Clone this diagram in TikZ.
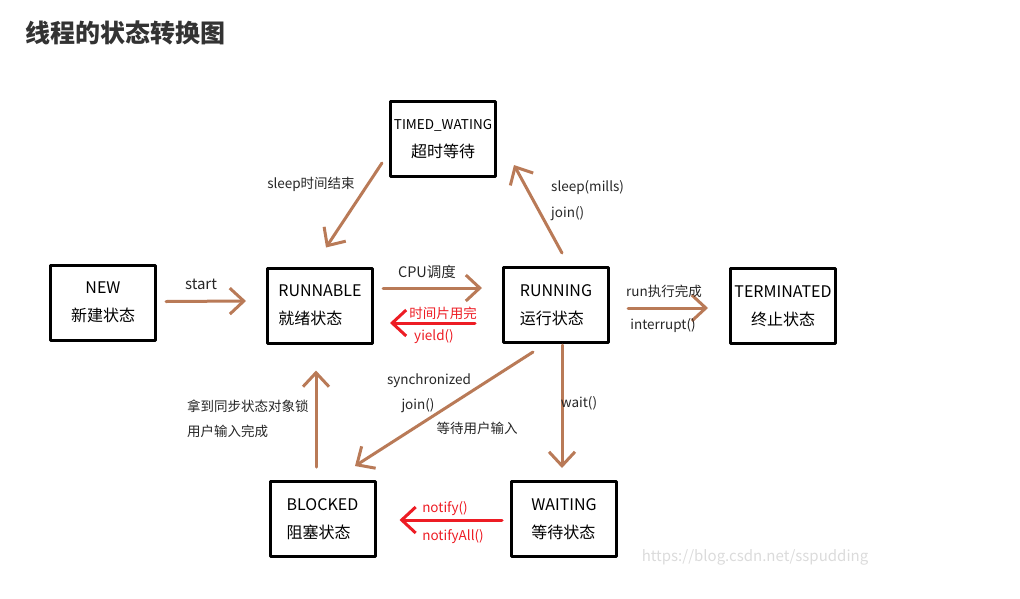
\documentclass[tikz,border=0pt]{standalone}
\usepackage{fontspec}
\setmainfont{Noto Sans CJK SC}
\usetikzlibrary{arrows.meta}
\definecolor{flowbrown}{RGB}{185,122,87}
\definecolor{flowred}{RGB}{237,28,36}
\begin{document}
\begin{tikzpicture}[x=1pt,y=-1pt,line cap=round,line join=round,
    state/.style={draw, line width=3pt, minimum width=105pt, minimum height=75pt, inner sep=2pt, font=\fontsize{16}{28}\selectfont},
    flow/.style={draw=flowbrown, line width=3pt, -{Straight Barb[length=14pt,width=26pt]}},
    back/.style={flow, draw=flowred},
    lbl/.style={font=\fontsize{13.5}{14}\selectfont, text=black!85, inner sep=0pt},
    rlbl/.style={lbl, text=flowred}]
                \useasboundingbox (0,0) rectangle (1020,598);
                \node[anchor=west, inner sep=0pt, font=\fontsize{25}{26}\selectfont\bfseries, text=black!80] (title) at (25,33) {线程的状态转换图};
                % states
                \node[state, align=center] (new) at (103,302.5) {NEW\\新建状态};
                \node[state, align=left] (runnable) at (320,305.5) {RUNNABLE\\就绪状态};
                \node[state, align=center] (timed) at (443,139) {{\fontsize{13.5}{28}\selectfont TIMED\_WATING}\\超时等待};
                \node[state, align=left] (running) at (556,305) {RUNNING\\运行状态};
                \node[state, align=center] (term) at (783,306) {TERMINATED\\终止状态};
                \node[state, align=left] (blocked) at (322.5,519) {BLOCKED\\阻塞状态};
                \node[state, align=left] (waiting) at (564,519) {WAITING\\等待状态};
                % transitions
                \draw[flow] ([shift={(9,-1)}]new.east) -- ([shift={(-20,-4.5)}]runnable.west);
                \draw[flow] ([shift={(9,-17.5)}]runnable.east) -- ([shift={(-20,-17)}]running.west);
                \draw[back] ([shift={(-27,18)}]running.west) -- ([shift={(16,17.5)}]runnable.east);
                \draw[flow] ([shift={(-7,24)}]timed.west) -- ([shift={(6,-19)}]runnable.north);
                \draw[flow] ([shift={(6,-13)}]running.north) -- ([shift={(17,26)}]timed.east);
                \draw[flow] ([shift={(18,3)}]running.east) -- ([shift={(-21,2)}]term.west);
                \draw[flow] ([shift={(-23,8)}]running.south) -- ([shift={(32.5,-14)}]blocked.north);
                \draw[flow] ([shift={(6,1)}]running.south) -- ([shift={(-2,-12)}]waiting.north);
                \draw[flow] ([shift={(-6.5,-13)}]blocked.north) -- ([shift={(-4,26)}]runnable.south);
                \draw[back] ([shift={(-8,1)}]waiting.west) -- ([shift={(23,1)}]blocked.east);
                % labels
                \node[lbl, font=\fontsize{15}{16}\selectfont] (lstart) at (201,284) {start};
                \node[lbl, font=\fontsize{14.5}{16}\selectfont] (lcpu) at (427,272) {CPU调度};
                \node[rlbl] (lslice) at (443,313) {时间片用完};
                \node[rlbl] (lyield) at (434,337) {yield()};
                \node[lbl] (lsleepend) at (311,184) {sleep时间结束};
                \node[lbl, anchor=west] (lsleep) at (551,188) {sleep(mills)};
                \node[lbl, anchor=west] (ljoin) at (551,214) {join()};
                \node[lbl] (lrun) at (664,291) {run执行完成};
                \node[lbl] (lint) at (663,326) {interrupt()};
                \node[lbl] (lsync) at (429,381) {synchronized};
                \node[lbl] (ljoinb) at (418,406) {join()};
                \node[lbl] (linput) at (477,428) {等待用户输入};
                \node[lbl] (lwait) at (579,403) {wait()};
                \node[lbl, anchor=west] (llock) at (187,406) {拿到同步状态对象锁};
                \node[lbl, anchor=west] (ldone) at (187,431) {用户输入完成};
                \node[rlbl] (lnotify) at (445,509) {notify()};
                \node[rlbl] (lnotifyall) at (453,537) {notifyAll()};
                \node[font=\fontsize{15}{16}\selectfont, text=black!14, inner sep=0pt] (mark) at (755,557) {https://blog.csdn.net/sspudding};
            \end{tikzpicture}
\end{document}
